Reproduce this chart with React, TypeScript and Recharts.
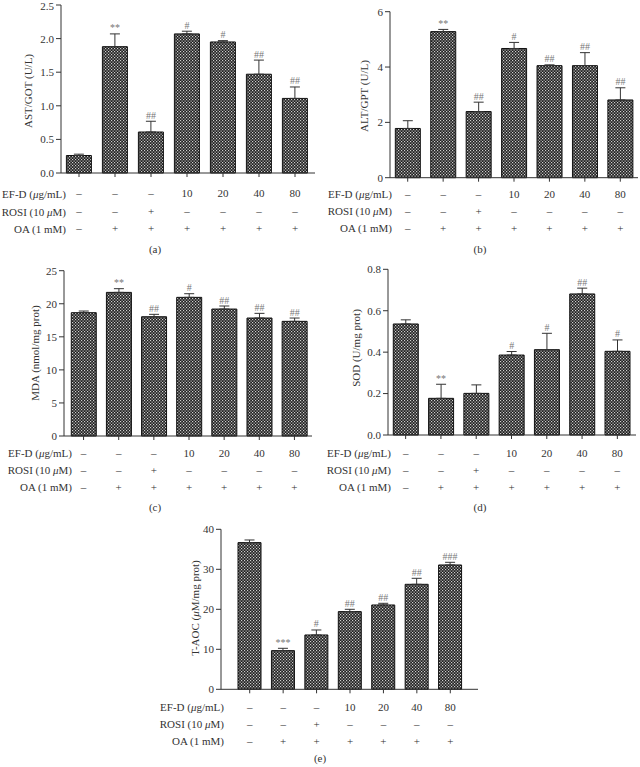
import { Bar, BarChart, ErrorBar, LabelList, XAxis, YAxis } from "recharts";

const groups = ["Control", "OA", "OA+ROSI", "OA+EF-D 10", "OA+EF-D 20", "OA+EF-D 40", "OA+EF-D 80"];
const efdRow = ["–", "–", "–", "10", "20", "40", "80"];
const rosiRow = ["–", "–", "+", "–", "–", "–", "–"];
const oaRow = ["–", "+", "+", "+", "+", "+", "+"];

const astMean = [0.26, 1.88, 0.61, 2.07, 1.95, 1.47, 1.11];
const astErr = [0.02, 0.19, 0.16, 0.04, 0.02, 0.21, 0.17];
const astMarks = ["", "**", "##", "#", "#", "##", "##"];

const altMean = [1.78, 5.28, 2.39, 4.67, 4.05, 4.05, 2.81];
const altErr = [0.28, 0.08, 0.34, 0.22, 0.03, 0.47, 0.44];
const altMarks = ["", "**", "##", "#", "##", "##", "##"];

const mdaMean = [18.65, 21.72, 18.04, 20.97, 19.2, 17.84, 17.34];
const mdaErr = [0.25, 0.56, 0.36, 0.55, 0.46, 0.71, 0.5];
const mdaMarks = ["", "**", "##", "#", "##", "##", "##"];

const sodMean = [0.536, 0.177, 0.201, 0.386, 0.412, 0.681, 0.404];
const sodErr = [0.02, 0.068, 0.041, 0.017, 0.079, 0.028, 0.055];
const sodMarks = ["", "**", "", "#", "#", "##", "#"];

const taocMean = [36.67, 9.67, 13.58, 19.42, 21.08, 26.25, 31.08];
const taocErr = [0.66, 0.58, 1.25, 0.58, 0.42, 1.5, 0.67];
const taocMarks = ["", "***", "#", "##", "##", "##", "###"];

const serif = '"Liberation Serif", "Times New Roman", serif';
const ink = "#333";

function RowTick(props: any) {
  const { x, y, index, rows } = props;
  return (
    <g fontFamily={serif} fontSize={11} fill={ink} textAnchor="middle">
      <text x={x} y={y + rows[0]} dominantBaseline="central">{efdRow[index]}</text>
      <text x={x} y={y + rows[1]} dominantBaseline="central">{rosiRow[index]}</text>
      <text x={x} y={y + rows[2]} dominantBaseline="central">{oaRow[index]}</text>
    </g>
  );
}

function markContent(mean: number[], err: number[], marks: string[]) {
  return (p: any) => {
    const vb = p.viewBox ?? p;
    const i = p.index;
    if (!marks[i] || vb.height == null) return null;
    const base = vb.y + vb.height;
    const top = base - ((mean[i] + err[i]) * vb.height) / mean[i];
    return (
      <text x={vb.x + vb.width / 2} y={top - 2.5} textAnchor="middle" fontFamily={serif} fontSize={10} fill="#777">
        {marks[i]}
      </text>
    );
  };
}

function Panel(props: any) {
  const { id, left, top, width, height, axisX, plotTop, plotBottom, axisEnd, padL = 0, padR = 0,
    domain, ticks, fmt, mean, err, marks, rows } = props;
  const data = groups.map((g, i) => ({ group: g, mean: mean[i], err: [0, err[i]] }));
  const pid = `dots-${id}`;
  return (
    <div style={{ position: "absolute", left, top }}>
      <BarChart
        width={width}
        height={height}
        data={data}
        barCategoryGap="15%"
        margin={{ top: plotTop - top, right: left + width - axisEnd, bottom: 0, left: 0 }}
      >
        <defs>
          <pattern id={pid} width="3" height="3" patternUnits="userSpaceOnUse">
            <rect width="3" height="3" fill="#202020" />
            <rect x="0" y="0" width="1.2" height="1.2" fill="#d0d0d0" />
            <rect x="1.5" y="1.5" width="1.2" height="1.2" fill="#d0d0d0" />
          </pattern>
        </defs>
        <XAxis
          dataKey="group"
          height={height - (plotBottom - top)}
          padding={{ left: padL, right: padR }}
          interval={0}
          tickSize={4}
          tickMargin={0}
          stroke={ink}
          tick={<RowTick rows={rows} />}
        />
        <YAxis
          width={axisX - left}
          domain={domain}
          ticks={ticks}
          tickFormatter={fmt}
          tickSize={5}
          tickMargin={2}
          stroke={ink}
          tick={{ fontSize: 11, fill: ink, fontFamily: serif }}
        />
        <Bar dataKey="mean" fill={`url(#${pid})`} stroke="#111" strokeWidth={1} isAnimationActive={false}>
          <ErrorBar dataKey="err" width={5} stroke={ink} strokeWidth={1} direction="y" />
          <LabelList dataKey="mean" content={markContent(mean, err, marks)} />
        </Bar>
      </BarChart>
    </div>
  );
}

function RowLabels({ right, ys }: { right: number; ys: number[] }) {
  return (
    <g fontFamily={serif} fontSize={11} fill={ink} textAnchor="end">
      <text x={right} y={ys[0]} dominantBaseline="central">
        EF-D (<tspan fontStyle="italic">μ</tspan>g/mL)
      </text>
      <text x={right} y={ys[1]} dominantBaseline="central">
        ROSI (10 <tspan fontStyle="italic">μ</tspan>M)
      </text>
      <text x={right} y={ys[2]} dominantBaseline="central">OA (1 mM)</text>
    </g>
  );
}

function YTitle({ x, y, children }: any) {
  return (
    <text x={x} y={y} transform={`rotate(-90 ${x} ${y})`} textAnchor="middle" dominantBaseline="central"
      fontFamily={serif} fontSize={11} fill={ink}>
      {children}
    </text>
  );
}

export default function App() {
  const one = (v: number) => v.toFixed(1);
  return (
    <div style={{ position: "absolute", left: 0, top: 0, width: 640, height: 767, background: "#fff" }}>
      <Panel id="a" left={0} top={0} width={320} height={240} axisX={61} axisEnd={315} plotTop={5} plotBottom={173}
        padR={2} domain={[0, 2.5]} ticks={[0, 0.5, 1, 1.5, 2, 2.5]} fmt={one}
        mean={astMean} err={astErr} marks={astMarks} rows={[16, 33.5, 51]} />
      <Panel id="b" left={320} top={0} width={320} height={240} axisX={390} axisEnd={638} plotTop={11.7} plotBottom={177.7}
        domain={[0, 6]} ticks={[0, 2, 4, 6]}
        mean={altMean} err={altErr} marks={altMarks} rows={[12.5, 29.5, 46.5]} />
      <Panel id="c" left={0} top={250} width={320} height={260} axisX={64} axisEnd={312} plotTop={270.7} plotBottom={436}
        padL={2} domain={[0, 25]} ticks={[0, 5, 10, 15, 20, 25]}
        mean={mdaMean} err={mdaErr} marks={mdaMarks} rows={[13, 30, 47]} />
      <Panel id="d" left={320} top={250} width={320} height={260} axisX={388} axisEnd={636} plotTop={269.3} plotBottom={435}
        padR={1} domain={[0, 0.8]} ticks={[0, 0.2, 0.4, 0.6, 0.8]} fmt={one}
        mean={sodMean} err={sodErr} marks={sodMarks} rows={[14, 31, 48]} />
      <Panel id="e" left={160} top={500} width={320} height={267} axisX={221} axisEnd={478} plotTop={529.3} plotBottom={689.3}
        padL={12} padR={11} domain={[0, 40]} ticks={[0, 10, 20, 30, 40]}
        mean={taocMean} err={taocErr} marks={taocMarks} rows={[13.5, 30.5, 47.5]} />
      <svg width={640} height={767} style={{ position: "absolute", left: 0, top: 0, pointerEvents: "none" }}>
        <YTitle x={28} y={91}>AST/GOT (U/L)</YTitle>
        <YTitle x={364} y={96}>ALT/GPT (U/L)</YTitle>
        <YTitle x={35} y={353}>MDA (nmol/mg prot)</YTitle>
        <YTitle x={356} y={348}>SOD (U/mg prot)</YTitle>
        <YTitle x={195} y={608}>
          T-AOC (<tspan fontStyle="italic">μ</tspan>M/mg prot)
        </YTitle>
        <RowLabels right={66} ys={[194, 211.5, 229]} />
        <RowLabels right={392} ys={[194, 211, 228]} />
        <RowLabels right={72} ys={[453, 470, 487]} />
        <RowLabels right={391} ys={[453, 470, 487]} />
        <RowLabels right={224} ys={[707, 724, 741]} />
        <g fontFamily={serif} fontSize={11} fill={ink} textAnchor="middle">
          <text x={155} y={249} dominantBaseline="central">(a)</text>
          <text x={480} y={249} dominantBaseline="central">(b)</text>
          <text x={155} y={507} dominantBaseline="central">(c)</text>
          <text x={480} y={507} dominantBaseline="central">(d)</text>
          <text x={320} y={758} dominantBaseline="central">(e)</text>
        </g>
      </svg>
    </div>
  );
}
